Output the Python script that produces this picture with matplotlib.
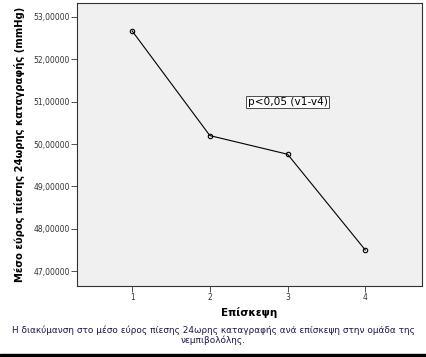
import matplotlib; matplotlib.use('Agg')
import matplotlib.pyplot as plt
from matplotlib.patches import Rectangle

visits = [1, 2, 3, 4]
mean_range = [52.67, 50.20, 49.76, 47.50]
yticks = [47, 48, 49, 50, 51, 52, 53]
ytick_labels = [f'{v:.5f}'.replace('.', ',') for v in yticks]

fig = plt.figure(figsize=(4.26, 3.57), dpi=100)
ax = fig.add_axes([77/426, 1 - 286/357, 345/426, 283/357])
ax.set_facecolor('#f0f0f0')
ax.plot(visits, mean_range, '-o', color='black', lw=0.8, ms=3.2, mfc='none', mew=0.8)
ax.set_xlim(0.29, 4.73); ax.set_ylim(46.65, 53.33)
ax.set_xticks(visits); ax.set_xticklabels([str(v) for v in visits])
ax.set_yticks(yticks); ax.set_yticklabels(ytick_labels)
ax.tick_params(labelsize=5.5, length=4, width=0.6, colors='#333333', pad=1)
for s in ax.spines.values():
    s.set_linewidth(0.8); s.set_color('#333333')
ax.set_xlabel('Επίσκεψη', fontsize=7.5, fontweight='bold', labelpad=4)
ax.set_ylabel('Μέσο εύρος πίεσης 24ωρης καταγραφής (mmHg)', fontsize=7.2, fontweight='bold')
ax.yaxis.set_label_coords(-(77 - 25) / 345, 0.5)
ax.text(3.0, 50.99, 'p<0,05 (v1-v4)', fontsize=7.6, ha='center', va='center',
        bbox=dict(boxstyle='square,pad=0.12', fc='white', ec='#333333', lw=0.6))
fig.text(0.5, 1 - 335.5/357, 'Η διακύμανση στο μέσο εύρος πίεσης 24ωρης καταγραφής ανά επίσκεψη στην ομάδα της\nνεμπιβολόλης.',
         ha='center', va='center', fontsize=6.4, color='#1a1a4a', linespacing=1.1)
fig.patches.append(Rectangle((0, 0), 1, 3.5/357, transform=fig.transFigure, color='black'))
fig.savefig('out.png', dpi=100)
